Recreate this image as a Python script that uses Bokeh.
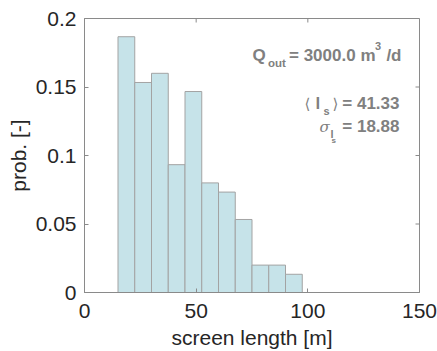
from bokeh.plotting import figure
from bokeh.models import FixedTicker, Label, Range1d
from bokeh.embed import file_html
from bokeh.resources import INLINE

# ---- data ----
bin_edges = [15.0, 22.5, 30.0, 37.5, 45.0, 52.5, 60.0, 67.5, 75.0, 82.5, 90.0, 97.5]
probabilities = [0.1867, 0.1533, 0.1600, 0.0933, 0.1467, 0.0800, 0.0733, 0.0533, 0.0200, 0.0200, 0.0133]
x_ticks = [0, 50, 100, 150]
y_ticks = [0, 0.05, 0.1, 0.15, 0.2]
y_tick_labels = ["0", "0.05", "0.1", "0.15", "0.2"]
x_label = "screen length [m]"
y_label = "prob. [-]"
q_out = "3000.0"
mean_ls = "41.33"
std_ls = "18.88"

FONT = "Liberation Sans"
AX = "#8a8a8a"
TXT = "#262626"
ANN = "#808080"

X0, X1 = 0, 150
Y0, Y1 = 0, 0.2
FL, FR, FT, FB = 84, 419, 18, 292  # frame edges in canvas pixels

p = figure(width=437, height=351, x_range=Range1d(X0, X1), y_range=Range1d(Y0, Y1),
           output_backend="svg", toolbar_location=None,
           min_border_left=FL, min_border_right=437 - FR,
           min_border_top=FT, min_border_bottom=351 - FB)
p.xgrid.visible = False
p.ygrid.visible = False
p.outline_line_color = AX
p.outline_line_width = 1
p.background_fill_color = "white"
p.border_fill_color = "white"

p.quad(left=bin_edges[:-1], right=bin_edges[1:], bottom=0, top=probabilities,
       fill_color="#c6e3e9", line_color="#a3a3a3", line_width=1)

def style_axis(ax):
    ax.axis_line_color = AX
    ax.major_tick_line_color = AX
    ax.major_tick_in = 4
    ax.major_tick_out = 0
    ax.minor_tick_line_color = None
    ax.major_label_text_font = FONT
    ax.major_label_text_font_size = "21px"
    ax.major_label_text_color = TXT
    ax.axis_label_text_font = FONT
    ax.axis_label_text_font_size = "21px"
    ax.axis_label_text_font_style = "normal"
    ax.axis_label_text_color = TXT

xax = p.xaxis[0]
yax = p.yaxis[0]
style_axis(xax)
style_axis(yax)
xax.ticker = FixedTicker(ticks=x_ticks)
yax.ticker = FixedTicker(ticks=y_ticks)
yax.major_label_overrides = {t: l for t, l in zip(y_ticks, y_tick_labels)}
xax.axis_label = x_label
yax.axis_label = y_label
xax.major_label_standoff = 11
yax.major_label_standoff = 8
xax.axis_label_standoff = 5
yax.axis_label_standoff = 3

# mirrored inward ticks on top and right edges (box on)
tick_px = 4
tx_len = tick_px / (FR - FL) * (X1 - X0)
ty_len = tick_px / (FB - FT) * (Y1 - Y0)
p.segment(x0=x_ticks, y0=[Y1] * len(x_ticks), x1=x_ticks, y1=[Y1 - ty_len] * len(x_ticks),
          line_color=AX, line_width=1)
p.segment(x0=[X1] * len(y_ticks), y0=y_ticks, x1=[X1 - tx_len] * len(y_ticks), y1=y_ticks,
          line_color=AX, line_width=1)

def dx(px):
    return X0 + (px - FL) / (FR - FL) * (X1 - X0)

def dy(py):
    return Y0 + (FB - py) / (FB - FT) * (Y1 - Y0)

def lab(text, px, py, size, style="bold", font=FONT, align="left", color=ANN):
    p.add_layout(Label(x=dx(px), y=dy(py), text=text, text_font=font,
                       text_font_size=size, text_font_style=style, text_color=color,
                       text_baseline="alphabetic", text_align=align))

# Q_out line
lab("Q", 252, 55, "17px")
lab("out", 267.5, 62, "11.5px")
lab("= " + q_out + " m", 375, 55, "17px", align="right")
lab("3", 374.5, 45, "11px")
lab("/d", 401, 55, "17px", align="right")

# <l_s> line
lab("\u27e8", 304, 103, "15px", "normal", "DejaVu Sans")
lab("l", 315, 103, "17px")
lab("s", 323, 110, "11px")
lab("\u27e9", 332, 103, "15px", "normal", "DejaVu Sans")
lab("= " + mean_ls, 399, 103, "17px", align="right")

# sigma line
lab("\u03c3", 319, 126, "15px", "italic", "DejaVu Serif")
lab("l", 330, 133, "11px")
lab("s", 331, 140, "8px")
lab("= " + std_ls, 399, 126, "17px", align="right")

open("out.html", "w").write(file_html(p, INLINE))
